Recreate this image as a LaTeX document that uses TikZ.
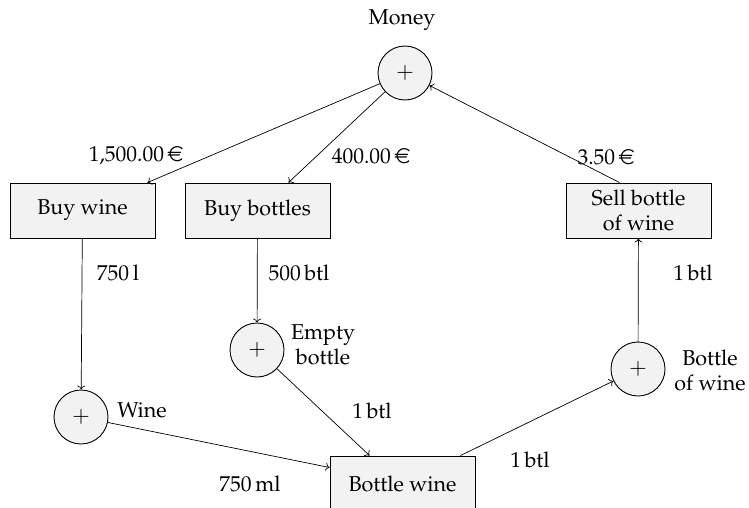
\documentclass[tikz,border=0pt]{standalone}
\usepackage[T1]{fontenc}
\usepackage{mathpazo}
\usepackage{eurosym}
\usetikzlibrary{arrows.meta,calc}
\begin{document}
\begin{tikzpicture}[x=1pt,y=-1pt,
  every node/.style={font=\fontsize{21.5}{25}\selectfont},
  flow/.style={draw, line width=0.7pt, -{To[length=4pt,width=8pt]}},
  pool/.style={circle, draw, fill=gray!10, line width=0.9pt, minimum size=54pt, inner sep=0pt},
  proc/.style={rectangle, draw, fill=gray!10, line width=0.9pt, minimum width=145pt,
               minimum height=55pt, align=center, inner sep=2pt},
  lbl/.style={inner sep=0pt, align=center}]
  \useasboundingbox (0,0) rectangle (749,508);

  % stocks
  \node[pool] (money) at (405,73) {$+$};
  \node[pool] (wine) at (81,417) {$+$};
  \node[pool] (empty) at (257,350) {$+$};
  \node[pool] (bottled) at (638,369) {$+$};

  % processes
  \node[proc] (buywine) at (82.5,210.5) {Buy wine};
  \node[proc] (buybottles) at (257.5,210.5) {Buy bottles};
  \node[proc] (sell) at (638.5,210.5) {Sell bottle\\of wine};
  \node[proc] (bottlewine) at (402.5,483.5) {Bottle wine};

  % stock names
  \node[lbl] (moneylbl) at (402,20) {Money};
  \node[lbl] (winelbl) at (142,410) {Wine};
  \node[lbl] (emptylbl) at (323,345) {Empty\\bottle};
  \node[lbl] (bottledlbl) at (710,370) {Bottle\\of wine};

  % flows
  \draw[flow] (money) -- ($(buywine.north east)+(-8,0)$);
  \draw[flow] (money) -- ($(buybottles.north)+(31,0)$);
  \draw[flow] ($(sell.north)+(-19,0)$) -- (money);
  \draw[flow] (buywine) -- (wine);
  \draw[flow] (buybottles) -- (empty);
  \draw[flow] (empty) -- ($(bottlewine.north west)+(40,0)$);
  \draw[flow] (wine) -- ($(bottlewine.west)+(0,-16)$);
  \draw[flow] ($(bottlewine.north east)+(-15,0)$) -- (bottled);
  \draw[flow] (bottled) -- (sell);

  % flow quantities
  \node[lbl] (q1) at (136,156) {1,500.00\,\euro};
  \node[lbl] (q2) at (371,156) {400.00\,\euro};
  \node[lbl] (q3) at (606,157) {3.50\,\euro};
  \node[lbl] (q4) at (118,273) {750\,l};
  \node[lbl] (q5) at (299,273) {500\,btl};
  \node[lbl] (q6) at (372,411) {1\,btl};
  \node[lbl] (q7) at (250,484) {750\,ml};
  \node[lbl] (q8) at (530,460) {1\,btl};
  \node[lbl] (q9) at (693,273) {1\,btl};
\end{tikzpicture}
\end{document}
